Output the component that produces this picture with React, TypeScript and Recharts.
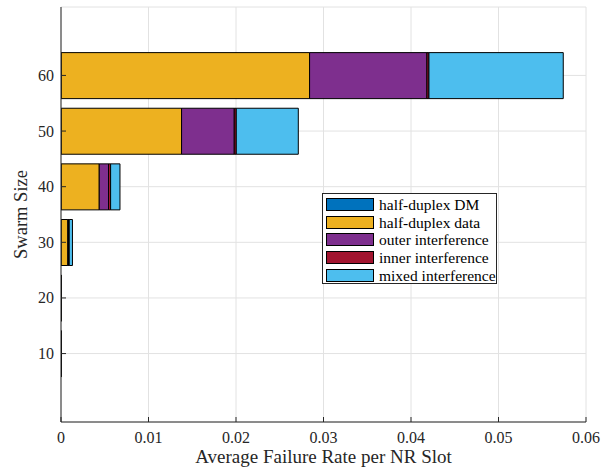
import React from 'react';
import { BarChart, Bar, XAxis, YAxis, CartesianGrid, Legend } from 'recharts';

const swarmSizes = [10, 20, 30, 40, 50, 60];
const halfDuplexDM = [0.00002, 0.00002, 0.00002, 0.00003, 0.00003, 0.00003];
const halfDuplexData = [0.00001, 0.00002, 0.00076, 0.00434, 0.01375, 0.02838];
const outerInterference = [0, 0, 0.00008, 0.00106, 0.00602, 0.01341];
const innerInterference = [0, 0, 0.00008, 0.00024, 0.00023, 0.00023];
const mixedInterference = [0, 0, 0.00037, 0.00107, 0.00709, 0.01535];

const xTicks = [0, 0.01, 0.02, 0.03, 0.04, 0.05, 0.06];
const yTicks = [10, 20, 30, 40, 50, 60];

const seriesKeys = ['dm', 'data', 'outer', 'inner', 'mixed'];
const seriesNames = ['half-duplex DM', 'half-duplex data', 'outer interference', 'inner interference', 'mixed interference'];
const seriesColors = ['#0072BD', '#EDB120', '#7E2F8E', '#A2142F', '#4DBEEE'];

const data = swarmSizes.map((s, i) => ({
  size: s,
  dm: halfDuplexDM[i],
  data: halfDuplexData[i],
  outer: outerInterference[i],
  inner: innerInterference[i],
  mixed: mixedInterference[i],
}));

const FONT = '"Liberation Serif", "Times New Roman", serif';
const AXIS = '#262626';

const XTick = (props: any) => {
  const { x, y, payload } = props;
  const v = payload.value;
  const label = v === 0 ? '0' : v.toFixed(2);
  return (
    <g>
      <line x1={x} x2={x} y1={y} y2={y - 5} stroke={AXIS} strokeWidth={1} />
      <text x={x} y={y + 21} textAnchor="middle" fontFamily={FONT} fontSize={16} fill={AXIS}>
        {label}
      </text>
    </g>
  );
};

const YTick = (props: any) => {
  const { x, y, payload } = props;
  return (
    <g>
      <line x1={x} x2={x + 5} y1={y} y2={y} stroke={AXIS} strokeWidth={1} />
      <text x={x - 7} y={y + 5.5} textAnchor="end" fontFamily={FONT} fontSize={16} fill={AXIS}>
        {payload.value}
      </text>
    </g>
  );
};

const LegendBox = () => (
  <div
    style={{
      border: `1px solid ${AXIS}`,
      background: '#fff',
      padding: '2px 3px',
      boxSizing: 'border-box',
      width: 175,
      height: 91,
      fontFamily: FONT,
      fontSize: 15.5,
      color: '#000',
    }}
  >
    {seriesNames.map((n, i) => (
      <div key={n} style={{ display: 'flex', alignItems: 'center', height: 17.6 }}>
        <div
          style={{
            width: 48,
            height: 13,
            background: seriesColors[i],
            border: '1px solid #000',
            boxSizing: 'border-box',
            marginRight: 5,
            flex: 'none',
          }}
        />
        <span style={{ whiteSpace: 'nowrap', lineHeight: '17px' }}>{n}</span>
      </div>
    ))}
  </div>
);

export default function App() {
  return (
    <div style={{ position: 'absolute', left: 0, top: 0, background: '#fff' }}>
      <BarChart
        width={613}
        height={468}
        data={data}
        layout="vertical"
        margin={{ top: 7, right: 27, bottom: 0, left: 0 }}
      >
        <CartesianGrid stroke="#e2e2e2" strokeWidth={1} />
        <XAxis
          type="number"
          domain={[0, 0.06]}
          ticks={xTicks}
          height={46}
          tickSize={0}
          tickMargin={0}
          tickLine={false}
          axisLine={{ stroke: AXIS }}
          tick={<XTick />}
          allowDataOverflow
          label={{
            content: (p: any) => {
              const vb = p.viewBox;
              return (
                <text x={vb.x + vb.width / 2} y={vb.y + 41} textAnchor="middle" fontFamily={FONT} fontSize={19} fill={AXIS}>
                  Average Failure Rate per NR Slot
                </text>
              );
            },
          }}
        />
        <YAxis
          type="number"
          dataKey="size"
          domain={[-2.3, 72.3]}
          ticks={yTicks}
          width={61}
          reversed
          tickSize={0}
          tickMargin={0}
          tickLine={false}
          axisLine={{ stroke: AXIS }}
          tick={<YTick />}
          allowDataOverflow
          label={{
            content: (p: any) => {
              const vb = p.viewBox;
              const cx = 27;
              const cy = vb.y + vb.height / 2;
              return (
                <text x={cx} y={cy} transform={`rotate(-90 ${cx} ${cy})`} textAnchor="middle" fontFamily={FONT} fontSize={18.5} fill={AXIS}>
                  Swarm Size
                </text>
              );
            },
          }}
        />
        <Legend
          layout="vertical"
          align="center"
          verticalAlign="middle"
          content={<LegendBox />}
          wrapperStyle={{ position: 'absolute', left: 322, top: 193, width: 175, height: 91 }}
        />
        {seriesKeys.map((k, i) => (
          <Bar
            key={k}
            dataKey={k}
            name={seriesNames[i]}
            stackId="s"
            fill={seriesColors[i]}
            stroke="#000"
            strokeWidth={1}
            barSize={46}
            isAnimationActive={false}
          />
        ))}
      </BarChart>
    </div>
  );
}
